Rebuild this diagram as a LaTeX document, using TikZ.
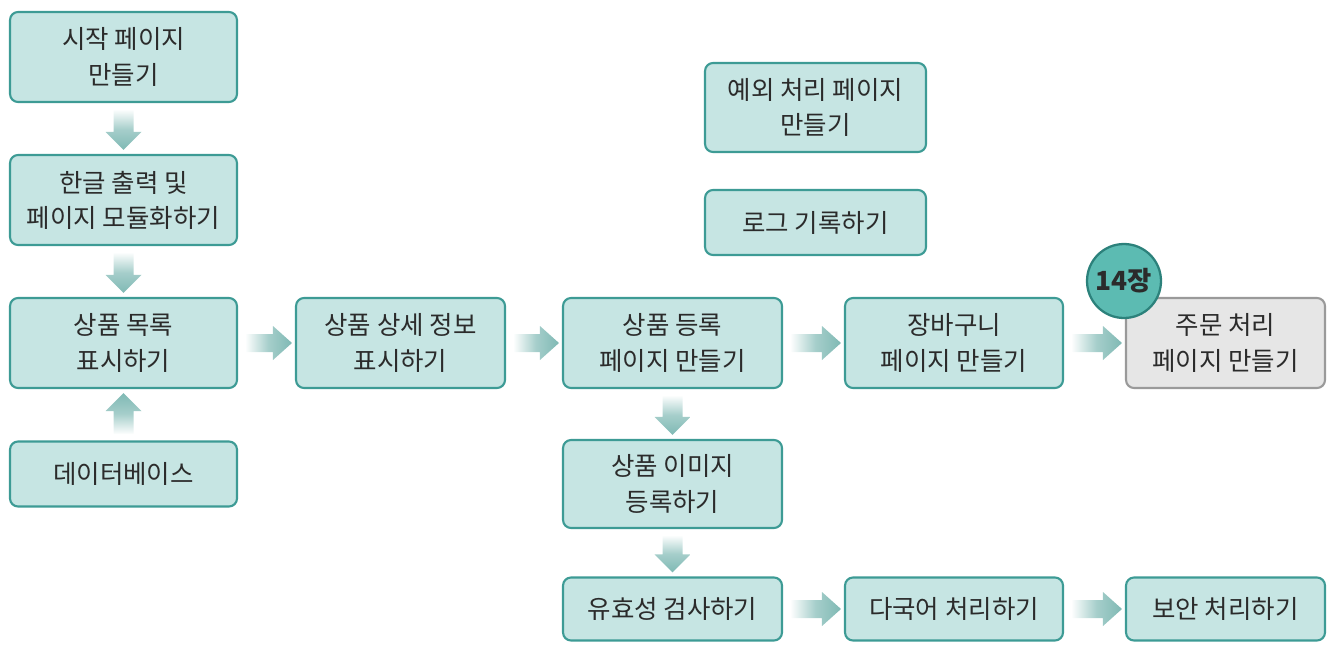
\documentclass[tikz,border=0pt]{standalone}
\usepackage{fontspec}
\setmainfont{Noto Sans CJK KR}
\usetikzlibrary{calc}

\definecolor{boxfill}{HTML}{C6E5E3}
\definecolor{boxline}{HTML}{3D9B95}
\definecolor{arrowteal}{HTML}{7FB9B4}
\definecolor{grayfill}{HTML}{E6E6E6}
\definecolor{grayline}{HTML}{9A9A9A}
\definecolor{badgefill}{HTML}{5CBBB2}
\definecolor{badgeline}{HTML}{2C817B}
\definecolor{txt}{HTML}{2B2B2B}

% fat shaded arrows between two nodes
\newcommand{\rightfat}[2]{%
  \shade[left color=white, right color=arrowteal, middle color=arrowteal!70]
    ($(#1.east)+(7,-9)$) -- ($(#2.west)+(-22,-9)$) -- ($(#2.west)+(-22,-17)$)
    -- ($(#2.west)+(-3,0)$) -- ($(#2.west)+(-22,17)$) -- ($(#2.west)+(-22,9)$)
    -- ($(#1.east)+(7,9)$) -- cycle;}
\newcommand{\downfat}[2]{%
  \shade[top color=white, bottom color=arrowteal, middle color=arrowteal!70]
    ($(#1.south)+(-10,6)$) -- ($(#2.north)+(-10,-22)$) -- ($(#2.north)+(-18,-22)$)
    -- ($(#2.north)+(0,-4)$) -- ($(#2.north)+(18,-22)$) -- ($(#2.north)+(10,-22)$)
    -- ($(#1.south)+(10,6)$) -- cycle;}
\newcommand{\upfat}[2]{%
  \shade[bottom color=white, top color=arrowteal, middle color=arrowteal!70]
    ($(#1.north)+(-10,-6)$) -- ($(#2.south)+(-10,22)$) -- ($(#2.south)+(-18,22)$)
    -- ($(#2.south)+(0,4)$) -- ($(#2.south)+(18,22)$) -- ($(#2.south)+(10,22)$)
    -- ($(#1.north)+(10,-6)$) -- cycle;}

\tikzset{
  box/.style = {draw=boxline, fill=boxfill, line width=1.2pt, rounded corners=0.16cm,
                align=center, text=txt, font=\fontsize{14.5}{20}\selectfont,
                minimum height=1.8cm, inner sep=2pt},
  shortbox/.style = {box, minimum height=1.3cm},
  graybox/.style = {box, draw=grayline, fill=grayfill},
  badge/.style = {circle, draw=badgeline, fill=badgefill, line width=1.3pt,
                  minimum size=1.48cm, inner sep=0pt, text=txt,
                  font=\fontsize{15}{18}\selectfont\bfseries}
}

\begin{document}
\begin{tikzpicture}[x=0.02cm, y=-0.02cm]
  \useasboundingbox (0,0) rectangle (1336,653);

  % left column
  \node[box, minimum width=4.54cm] (start) at (123.5,57) {시작 페이지\\만들기};
  \node[box, minimum width=4.54cm] (hangul) at (123.5,200) {한글 출력 및\\페이지 모듈화하기};
  \node[box, minimum width=4.54cm] (list) at (123.5,343) {상품 목록\\표시하기};
  \node[shortbox, minimum width=4.54cm] (db) at (123.5,474) {데이터베이스};

  % main row
  \node[box, minimum width=4.18cm] (detail) at (400.5,343) {상품 상세 정보\\표시하기};
  \node[box, minimum width=4.38cm] (register) at (672.5,343) {상품 등록\\페이지 만들기};
  \node[box, minimum width=4.36cm] (cart) at (954,343) {장바구니\\페이지 만들기};
  \node[graybox, minimum width=3.98cm] (order) at (1225.5,343) {주문 처리\\페이지 만들기};
  \node[badge] (ch14) at (1124,281) {14장};

  % lower branch
  \node[box, minimum width=4.38cm, minimum height=1.76cm] (image) at (672.5,484) {상품 이미지\\등록하기};
  \node[shortbox, minimum width=4.38cm, minimum height=1.26cm] (valid) at (672.5,609) {유효성 검사하기};
  \node[shortbox, minimum width=4.36cm, minimum height=1.26cm] (i18n) at (954,609) {다국어 처리하기};
  \node[shortbox, minimum width=3.98cm, minimum height=1.26cm] (secure) at (1225.5,609) {보안 처리하기};

  % upper extras
  \node[box, minimum width=4.42cm, minimum height=1.78cm] (error) at (815.5,107.5) {예외 처리 페이지\\만들기};
  \node[shortbox, minimum width=4.42cm] (log) at (815.5,222.5) {로그 기록하기};

  % arrows
  \downfat{start}{hangul}
  \downfat{hangul}{list}
  \upfat{db}{list}
  \rightfat{list}{detail}
  \rightfat{detail}{register}
  \rightfat{register}{cart}
  \rightfat{cart}{order}
  \downfat{register}{image}
  \downfat{image}{valid}
  \rightfat{valid}{i18n}
  \rightfat{i18n}{secure}
\end{tikzpicture}
\end{document}
